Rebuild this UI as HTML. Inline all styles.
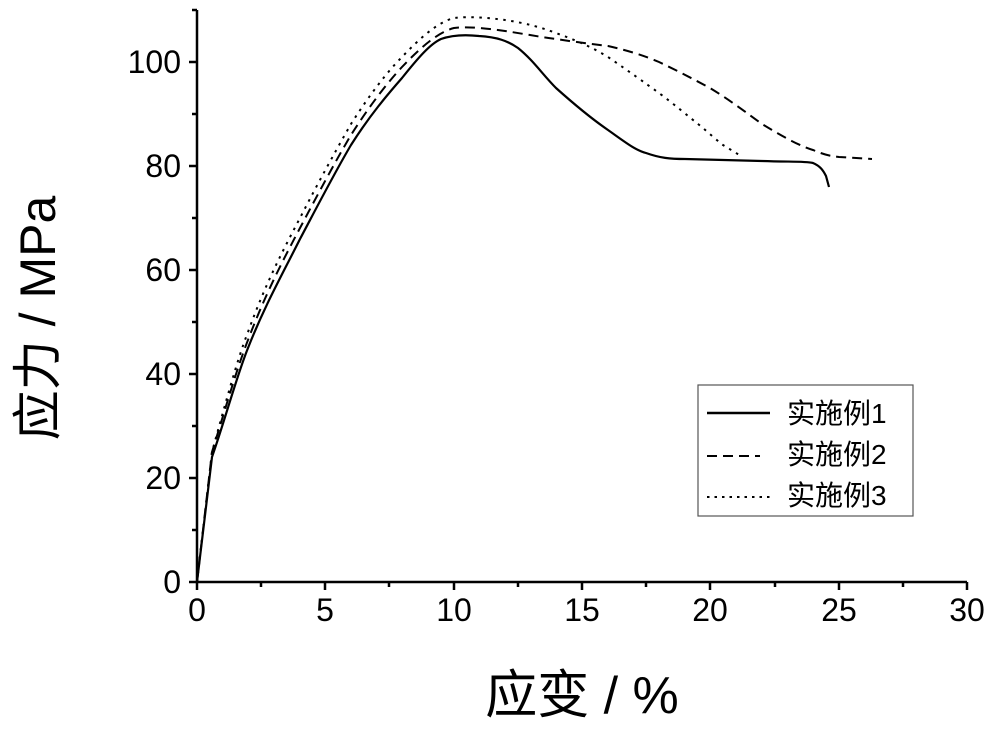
<!DOCTYPE html>
<html><head><meta charset="utf-8"><style>body{margin:0;background:#fff}</style></head><body>
<svg width="996" height="732" viewBox="0 0 996 732" xmlns="http://www.w3.org/2000/svg" font-family="Liberation Sans, Noto Sans CJK SC, sans-serif">
<g stroke="#000" stroke-width="2.5" fill="none">
<path d="M197 10 V582 H967"/>
<path d="M197 582h-8M197 478h-8M197 374h-8M197 270h-8M197 166h-8M197 62h-8M197 530h-5M197 426h-5M197 322h-5M197 218h-5M197 114h-5M197 10h-5"/>
<path d="M197 582v8M325 582v8M454 582v8M582 582v8M710 582v8M839 582v8M967 582v8M261 582v5M389 582v5M518 582v5M646 582v5M775 582v5M903 582v5"/>
</g>
<g fill="none" stroke="#000" stroke-width="2.2">
<path d="M197,582 L212,457 C225,420 237,375 248,348 C265,305 282,275 300,239 C318,205 335,172 351,145 C370,115 388,94 402,78 C418,58 430,44 441,39 C455,34 470,35 479,36 C497,37 508,41 518,48 C533,60 543,75 556,88 C575,105 592,119 608,130 C625,142 635,150 646,153 C660,158 670,159 685,159 L762,161 C790,162 805,161 813,163 C820,166 823,170 826,176 L829,187"/>
<path stroke-width="2" stroke-dasharray="10,6" d="M197,582 L212,452 C225,410 237,368 248,340 C265,295 282,262 300,228 C318,194 335,162 351,135 C370,105 388,82 402,67 C420,48 438,32 454,28 C470,26 490,29 505,31 C525,34 540,37 556,39 C575,42 592,44 608,46 C630,51 645,56 659,62 C680,72 695,80 710,88 C730,100 748,114 762,124 C785,138 800,146 813,150 C825,155 830,156 839,157 L872,159"/>
<path stroke-width="2" stroke-dasharray="2.5,5.5" d="M197,582 L212,452 C225,405 237,360 248,332 C265,285 282,252 300,218 C318,183 335,152 351,124 C370,94 388,71 402,57 C420,38 438,22 454,18 C470,16 490,18 505,20 C525,23 540,27 556,33 C575,40 592,47 608,57 C630,72 645,83 659,93 C675,105 688,116 698,124 C708,132 715,139 723,145 L741,156"/>
</g>
<g font-size="32" text-anchor="middle" fill="#000">
<text x="197" y="621">0</text><text x="325" y="621">5</text><text x="454" y="621">10</text><text x="582" y="621">15</text><text x="710" y="621">20</text><text x="839" y="621">25</text><text x="967" y="621">30</text>
</g>
<g font-size="32" text-anchor="end" fill="#000">
<text x="181" y="593">0</text><text x="181" y="489">20</text><text x="181" y="385">40</text><text x="181" y="281">60</text><text x="181" y="177">80</text><text x="181" y="73">100</text>
</g>
<text x="582" y="713" font-size="52" text-anchor="middle">应变 / %</text>
<text transform="translate(55,318) rotate(-90)" font-size="50" text-anchor="middle">应力 / MPa</text>
<rect x="698" y="385" width="215" height="131" fill="#fff" stroke="#555" stroke-width="1.2"/>
<g stroke="#000" stroke-width="2">
<line x1="707" y1="413" x2="770" y2="413" stroke-width="2.5"/>
<line x1="707" y1="456" x2="760" y2="456" stroke-dasharray="10,6"/>
<line x1="707" y1="497" x2="770" y2="497" stroke-dasharray="2.5,5"/>
</g>
<g font-size="28" fill="#000">
<text x="787" y="423">实施例1</text><text x="787" y="464">实施例2</text><text x="787" y="505">实施例3</text>
</g>
</svg>
</body></html>
